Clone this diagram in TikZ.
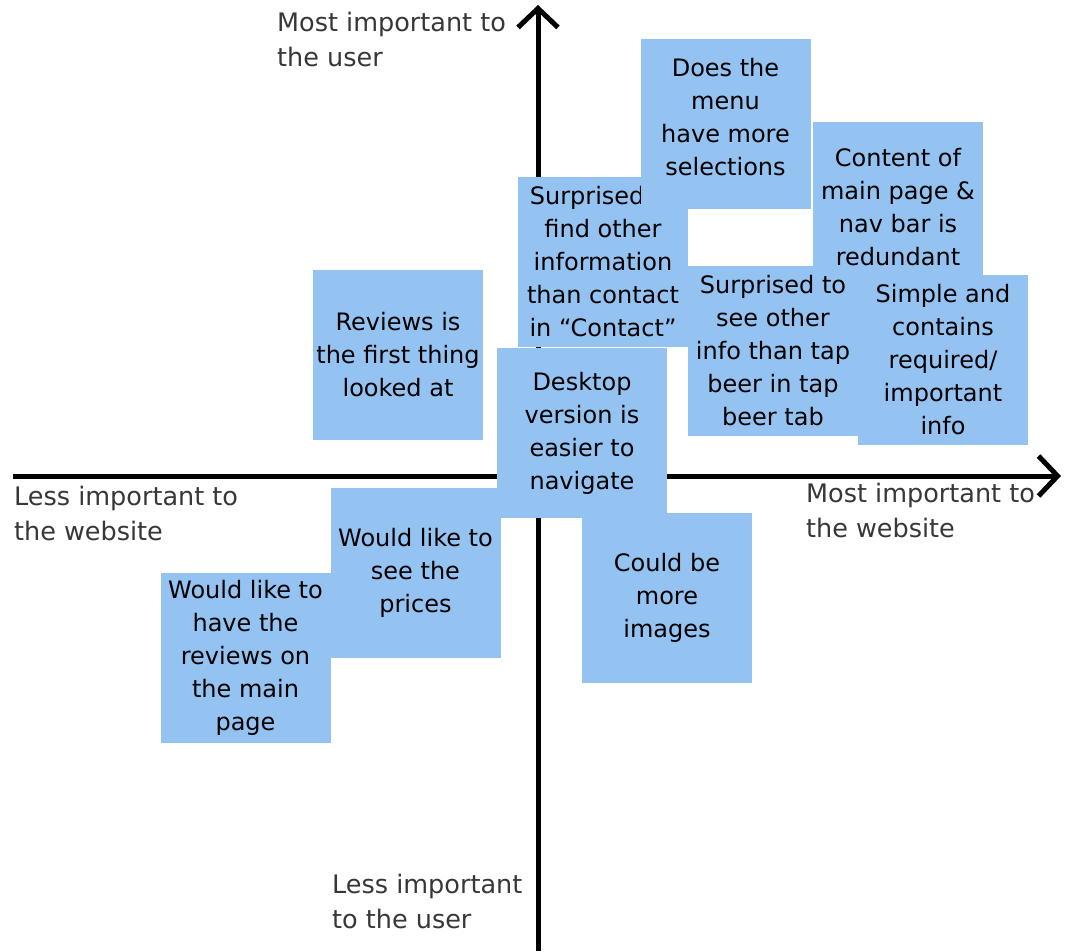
\documentclass[tikz,border=0pt]{standalone}
\usepackage{fontspec}
\setmainfont{DejaVu Sans}
\usepackage{tikz}
\usetikzlibrary{arrows.meta}

\definecolor{notefill}{RGB}{148,195,242}
\definecolor{labelgray}{RGB}{55,55,55}

\tikzset{
  sticky/.style={fill=notefill, minimum width=170pt, minimum height=170pt,
    inner sep=0pt, align=center, text=black,
    font=\fontsize{24}{33}\selectfont},
  axislabel/.style={anchor=north west, align=left, inner sep=0pt,
    text=labelgray, font=\fontsize{25.5}{35}\selectfont},
  axisline/.style={line width=5pt, -{Straight Barb[length=19pt,width=40pt]}}
}

\begin{document}
\begin{tikzpicture}[x=1pt,y=-1pt]
\useasboundingbox (0,0) rectangle (1065,951);

% Axes
\coordinate (ybot) at (538,951);
\coordinate (ytop) at (538,5);
\coordinate (xleft) at (13,476);
\coordinate (xright) at (1061,476);
\draw[axisline] (ybot) -- (ytop);
\draw[axisline] (xleft) -- (xright);

% Axis labels
\node[axislabel] (usertop) at (277,12) {Most important to\\the user};
\node[axislabel] (webleft) at (14,486) {Less important to\\the website};
\node[axislabel] (webright) at (806,483) {Most important to\\the website};
\node[axislabel] (userbot) at (332,874) {Less important\\to the user};

% Sticky notes, upper half
\node[sticky] (reviews) at (398,355) {Reviews is\\the first thing\\looked at};
\node[sticky] (contact) at (603,262)
    {Surprised to\\find other\\information\\than contact\\in “Contact”};
\node[sticky, text depth=14pt] (menu) at (725.5,124)
    {Does the\\menu\\have more\\selections};
\node[sticky] (navbar) at (898,207)
    {Content of\\main page \&\\nav bar is\\redundant};
\node[sticky] (tapbeer) at (773,351)
    {Surprised to\\see other\\info than tap\\beer in tap\\beer tab};
\node[sticky] (simple) at (943,360)
    {Simple and\\contains\\required/\\important\\info};
\node[sticky] (desktop) at (582,433)
    {Desktop\\version is\\easier to\\navigate};

% Sticky notes, lower half
\node[sticky] (images) at (667,598) {Could be\\more\\images};
\node[sticky] (prices) at (415.5,573) {Would like to\\see the\\prices};
\node[sticky] (mainpage) at (245.5,658)
    {Would like to\\have the\\reviews on\\the main\\page};

\end{tikzpicture}
\end{document}
